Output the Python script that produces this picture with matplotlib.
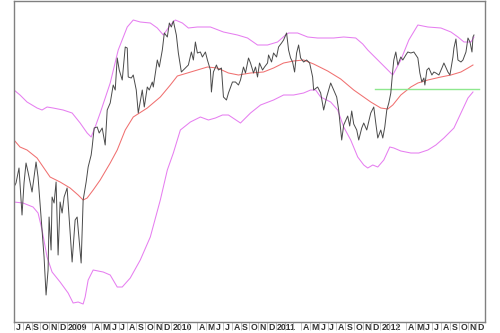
"""
Weekly price chart with moving average and envelope bands,
Jul 2008 - Dec 2012. Saved as out.png.
"""
import datetime as dt

import matplotlib
matplotlib.use("Agg")
import matplotlib.pyplot as plt
import matplotlib.transforms as mtransforms

START = dt.date(2008, 7, 1)
END = dt.date(2013, 1, 1)

# x = weeks since 1 Jul 2008, y = price level (arbitrary units)
price_wk = [0, 1, 2.5, 4, 5, 6, 7, 9, 11, 12, 14, 15, 16, 17, 17.5, 18.5, 19, 20, 21, 22,
            23, 24, 25, 26.5, 27.5, 29, 30.5, 31.5, 33.5, 34.5, 36, 37, 38.5, 39, 40, 41.5,
            42.5, 44, 45.5, 46.5, 48, 49.5, 50.5, 51.5, 52.5, 54, 55.5, 56.5, 57, 58.5, 59.5,
            61, 62, 64, 65, 66.5, 67.5, 69, 69.5, 71.5, 72.5, 74, 75, 76.5, 77.5, 78.5, 79.5,
            81, 82, 83.5, 85.5, 87, 88.5, 89.5, 90.5, 91.5, 93, 94, 95.5, 96.5, 98, 98.5, 99.5,
            101, 102, 103.5, 104.5, 106, 107, 109, 110.5, 112, 113, 114.5, 115.5, 117, 118,
            119.5, 120.5, 121.5, 122.5, 124, 125, 126.5, 127, 128.5, 129.5, 131, 132, 133.5,
            134.5, 136, 137, 138, 139, 140, 141, 142, 143, 144.5, 146, 147.5, 149, 149.5,
            151.5, 153, 154.5, 156, 158, 159.5, 161, 162, 163.5, 164.5, 166.5, 167.5, 168.5,
            169.5, 171, 172, 173.5, 174.5, 176, 178, 179.5, 180.5, 181.5, 183, 184, 185, 186,
            187, 188, 189, 189.5, 190.5, 191.5, 193, 194, 195.5, 196.5, 198, 199.5, 201.5,
            202.5, 203.5, 204.5, 205, 206, 207, 208.5, 209.5, 210.5, 212, 213.5, 214.5, 216.5,
            217.5, 219, 219.5, 220.5, 221.5, 223, 224, 225.5, 226.5, 227.5, 228.5, 229, 229.5]
price = [135, 139, 154, 107, 139, 159, 150, 130, 160, 145, 92, 65, 27, 52, 105, 72, 125, 119,
         140, 67, 120, 109, 125, 134, 105, 60, 102, 105, 59, 122, 140, 155, 167, 175, 194, 195,
         189, 194, 177, 212, 219, 237, 232, 264, 252, 242, 275, 274, 245, 244, 247, 232, 209,
         232, 215, 235, 232, 240, 235, 262, 255, 272, 289, 285, 299, 295, 301, 287, 269, 250,
         254, 257, 270, 262, 280, 269, 270, 265, 270, 262, 252, 230, 250, 257, 252, 254, 225,
         222, 229, 240, 240, 237, 242, 255, 249, 264, 259, 249, 255, 245, 259, 252, 255, 259,
         267, 260, 269, 265, 275, 279, 282, 289, 272, 264, 260, 250, 269, 277, 264, 260, 262,
         259, 245, 232, 235, 229, 212, 225, 239, 232, 225, 212, 182, 197, 206, 196, 211, 198,
         192, 182, 194, 199, 192, 209, 215, 199, 184, 192, 184, 195, 212, 219, 229, 252, 262,
         270, 257, 265, 262, 267, 270, 269, 270, 264, 249, 240, 244, 237, 252, 254, 247, 250,
         249, 247, 254, 259, 250, 247, 265, 274, 283, 262, 260, 262, 270, 284, 280, 270, 285,
         287]

ma_wk = [0, 3, 6.5, 11.5, 18, 23, 28, 32, 34.5, 36.5, 39.5, 43, 48, 51.5, 55.5, 59.5, 66.5,
         73, 78, 81.5, 86.5, 91.5, 96.5, 101.5, 107, 112, 118, 124.5, 129.5, 134.5, 139.5,
         144.5, 149.5, 156.5, 163, 169.5, 178, 183, 186.5, 189, 193, 198, 201.5, 206.5, 213,
         218, 223, 226.5, 229]
ma = [182, 175, 172, 164, 145, 140, 134, 127, 122, 124, 132, 142, 159, 172, 192, 205, 214,
      225, 237, 246, 249, 252, 255, 254, 249, 247, 249, 250, 254, 259, 261, 262, 258, 251,
      243, 232, 220, 214, 213, 217, 227, 235, 239, 242, 245, 247, 250, 254, 257]

upper_wk = [0, 3, 6.5, 11.5, 14, 16.5, 19.5, 24.5, 29, 33, 36.5, 38.5, 40.5, 43, 48, 52,
            56.5, 59.5, 63, 68, 71.5, 74.5, 78, 80.5, 84, 87, 91.5, 98, 104.5, 111.5, 116.5,
            121.5, 126.5, 131.5, 135.5, 137, 141.5, 146.5, 151.5, 159.5, 164.5, 170.5, 174,
            176.5, 181.5, 186.5, 189, 193, 197, 201.5, 206.5, 213, 218, 221.5, 224.5, 228,
            229.5]
upper = [232, 227, 220, 214, 212, 215, 214, 212, 209, 199, 189, 185, 195, 209, 239, 272,
         295, 302, 300, 299, 294, 287, 297, 302, 299, 294, 295, 295, 290, 287, 284, 277, 277,
         280, 287, 289, 289, 285, 284, 284, 285, 284, 278, 272, 262, 252, 247, 262, 282, 297,
         295, 294, 290, 285, 280, 280, 285]

lower_wk = [0, 4.5, 9.5, 12, 14, 16.5, 19, 23, 27, 29.5, 32, 34.5, 35.5, 37, 39.5, 44.5,
            48, 51.5, 54, 58, 63, 68, 73, 76.5, 79.5, 83, 88, 93, 97, 100.5, 104, 107, 113,
            118, 123, 129.5, 134.5, 139.5, 144.5, 148, 150.5, 153, 158, 161.5, 164.5, 168,
            171.5, 174.5, 176.5, 179, 181.5, 184.5, 187.5, 189.5, 193, 198, 202, 206.5, 210.5,
            214.5, 219.5, 223, 226.5, 229]
lower = [120, 119, 115, 109, 92, 65, 50, 40, 29, 19, 20, 18, 25, 42, 52, 50, 47, 35, 35, 44,
         62, 85, 122, 152, 169, 192, 200, 205, 202, 204, 207, 207, 199, 209, 217, 222, 227,
         227, 229, 232, 232, 225, 220, 212, 195, 182, 165, 157, 154, 157, 155, 162, 175, 174,
         171, 169, 169, 172, 177, 184, 194, 209, 224, 230]

support_wk = [180, 232]
support = [233, 233]

MONTH_LETTERS = "JFMAMJJASOND"


def weeks_since_start(d: dt.date) -> float:
    return (d - START).days / 7.0


def month_ticks():
    pos, labels = [], []
    y, m = START.year, START.month
    while (y, m) < (END.year, END.month):
        pos.append(weeks_since_start(dt.date(y, m, 1)))
        if m == 1:
            labels.append(str(y))
        elif m in (2, 3):
            labels.append("")
        else:
            labels.append(MONTH_LETTERS[m - 1])
        m += 1
        if m > 12:
            y, m = y + 1, 1
    return pos, labels


def main() -> None:
    fig = plt.figure(figsize=(5.0, 3.33), dpi=100)
    ax = fig.add_axes([0.028, 0.033, 0.942, 0.964])

    ax.plot(upper_wk, upper, color="#e67ef0", linewidth=0.75)
    ax.plot(lower_wk, lower, color="#e67ef0", linewidth=0.75)
    ax.plot(ma_wk, ma, color="#f07070", linewidth=0.75)
    ax.plot(support_wk, support, color="#8ee88e", linewidth=1.0)
    ax.plot(price_wk, price, color="#4a4a4a", linewidth=0.7)

    ax.set_xlim(0, weeks_since_start(END))
    ax.set_ylim(0, 321)

    pos, labels = month_ticks()
    ax.set_xticks(pos)
    ax.set_xticklabels(labels, ha="left", fontsize=6.3, fontweight="bold",
                       color="#333333", family="Liberation Sans")
    ax.tick_params(axis="x", length=6, width=0.6, color="#b8b8b8", pad=-5.5)
    shift = mtransforms.ScaledTranslation(1.5 / 100, 0, fig.dpi_scale_trans)
    for lbl in ax.get_xticklabels():
        lbl.set_transform(lbl.get_transform() + shift)
    ax.set_yticks([])

    for sp in ax.spines.values():
        sp.set_color("#808080")
        sp.set_linewidth(1.0)

    fig.savefig("out.png", dpi=100)


if __name__ == "__main__":
    main()
